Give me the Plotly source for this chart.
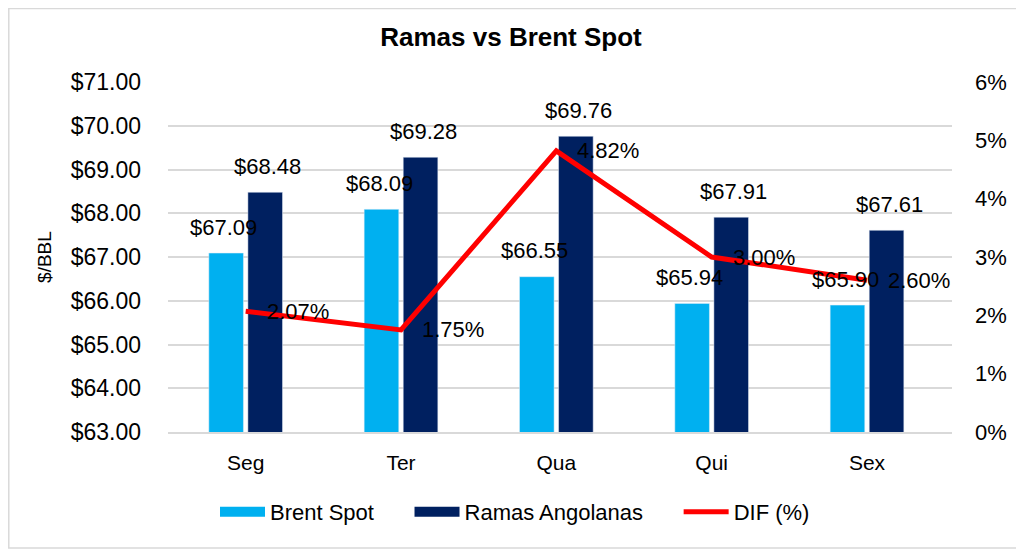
import plotly.graph_objects as go

dias = ['Seg', 'Ter', 'Qua', 'Qui', 'Sex']
brent_spot = [67.09, 68.09, 66.55, 65.94, 65.90]
ramas_angolanas = [68.48, 69.28, 69.76, 67.91, 67.61]
dif_pct = [2.07, 1.75, 4.82, 3.00, 2.60]

dif = [d / 100 for d in dif_pct]
arial = 'Liberation Sans, Arial, sans-serif'
label_font = dict(family=arial, size=22, color='#000000')
azul_claro = '#00B0F0'
azul_escuro = '#002060'

# page body has an 8px margin, so the figure is a bit smaller than the window
W, H = 1016, 544
ml, mr, mt, mb = 160, 72, 74, 120
pw, ph = W - ml - mr, H - mt - mb

fig = go.Figure()

fig.add_trace(go.Bar(name='Brent Spot', x=dias, y=brent_spot, showlegend=False,
                     marker=dict(color=azul_claro)))
fig.add_trace(go.Bar(name='Ramas Angolanas', x=dias, y=ramas_angolanas, showlegend=False,
                     marker=dict(color=azul_escuro)))
fig.add_trace(go.Scatter(name='DIF (%)', x=dias, y=dif, yaxis='y2', showlegend=False,
                         mode='lines', line=dict(color='#FF0000', width=5)))

# legend entries (wide Excel-like swatches); nbsp padding spaces the items out
pad = '\u00a0' * 5
for nome, cor, lw in [('Brent Spot' + pad, azul_claro, 13),
                      ('Ramas Angolanas' + pad, azul_escuro, 13),
                      ('DIF (%)', '#FF0000', 5)]:
    fig.add_trace(go.Scatter(name=nome, x=[None], y=[None], mode='lines',
                             line=dict(color=cor, width=lw)))

# data labels (Excel style: above bars, right of line points)
annots = []
shift = 22
for d, b, r, p in zip(dias, brent_spot, ramas_angolanas, dif_pct):
    annots.append(dict(x=d, y=b, xref='x', yref='y', text=f'${b:.2f}',
                       showarrow=False, xshift=-shift, yshift=26, yanchor='middle',
                       font=label_font))
    annots.append(dict(x=d, y=r, xref='x', yref='y', text=f'${r:.2f}',
                       showarrow=False, xshift=shift, yshift=26, yanchor='middle',
                       font=label_font))
    annots.append(dict(x=d, y=p / 100, xref='x', yref='y2', text=f'{p:.2f}%',
                       showarrow=False, xanchor='left', xshift=19, yanchor='middle',
                       font=label_font))

fig.update_layout(
    width=W, height=H,
    paper_bgcolor='white', plot_bgcolor='white',
    margin=dict(l=ml, r=mr, t=mt, b=mb, autoexpand=False),
    barmode='group', bargap=0.497, bargroupgap=0.114,
    title=dict(text='<b>Ramas vs Brent Spot</b>', x=(511 - 8) / W, xanchor='center',
               y=1 - 29 / H, yanchor='middle',
               font=dict(family=arial, size=26, color='#000000')),
    xaxis=dict(showline=True, linecolor='#D9D9D9', linewidth=1.5, automargin=False,
               tickfont=dict(family=arial, size=21, color='#000000'),
               ticks='', ticklabelstandoff=11),
    yaxis=dict(range=[63, 71], dtick=1, tickprefix='$', tickformat='.2f',
               gridcolor='#D9D9D9', gridwidth=1.5, zeroline=False, automargin=False,
               tickfont=dict(family=arial, size=23, color='#000000'),
               ticklabelstandoff=26,
               title=dict(text='$/BBL', standoff=13,
                          font=dict(family=arial, size=19, color='#000000'))),
    yaxis2=dict(range=[0, 0.06], dtick=0.01, tickformat='.0%', overlaying='y',
                side='right', showgrid=False, zeroline=False, automargin=False,
                ticklabelstandoff=22,
                tickfont=dict(family=arial, size=22, color='#000000')),
    legend=dict(orientation='h', x=(515 - 8 - ml) / pw, xanchor='center',
                y=-80 / ph, yanchor='middle',
                font=dict(family=arial, size=22, color='#000000'),
                itemwidth=45),
    annotations=annots,
    shapes=[dict(type='rect', xref='paper', yref='paper',
                 x0=-ml / pw + 0.001, x1=1 + (mr - 1.5) / pw,
                 y0=-(mb - 4) / ph, y1=1 + (mt - 0.5) / ph,
                 line=dict(color='#D9D9D9', width=1.5))],
)

fig.write_html('out.html')
